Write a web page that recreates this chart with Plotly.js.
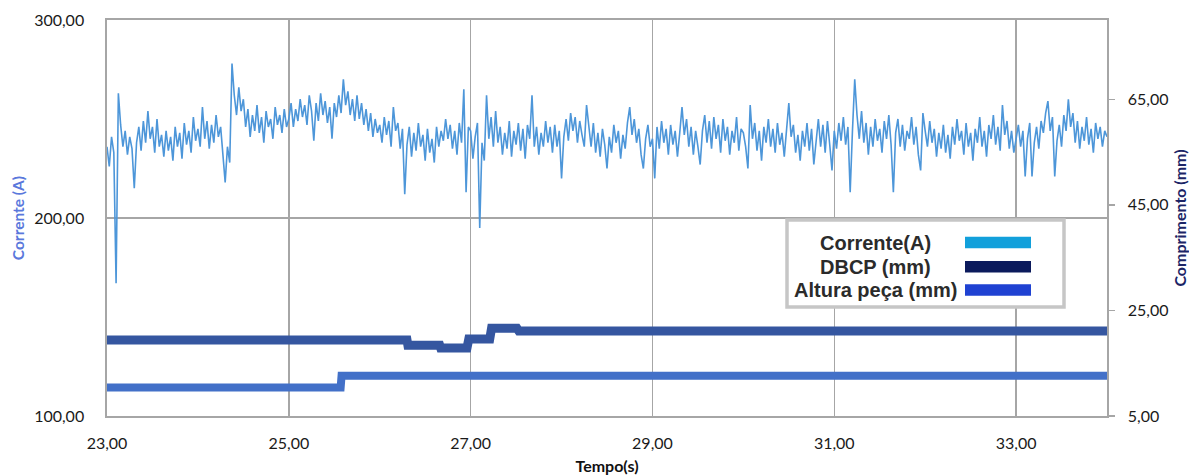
<!DOCTYPE html>
<html>
<head>
<meta charset="utf-8">
<script src="https://cdn.plot.ly/plotly-3.0.1.min.js"></script>
<style>
  html, body { margin: 0; padding: 0; background: #ffffff; }
  #grafico { width: 1189px; height: 476px; }
</style>
</head>
<body>
<div id="grafico"></div>
<script>
// Welding current sampled every 25 ms from 23,00 s to 34,00 s (A)
const tempoInicial = 23.0;
const passoAmostra = 0.025;
const corrente = [
  // 23 s
  236,226,241,233,167,263,247,236,244,232,241,235,215,238,246,234,249,238,254,240,
  246,233,250,236,242,231,244,234,241,229,246,236,243,230,248,237,244,233,251,239,
  // 24 s
  245,236,256,240,249,235,247,238,252,241,246,232,218,236,228,278,262,252,266,254,
  260,246,255,241,252,244,257,243,251,238,254,246,250,240,256,247,252,243,255,246,
  // 25 s
  250,258,246,255,249,260,251,257,247,262,254,239,258,249,263,252,259,248,256,240,
  258,251,262,253,270,257,264,252,260,249,262,250,258,247,255,244,253,241,250,243,
  // 26 s
  247,238,251,242,249,236,256,244,248,235,245,212,237,246,231,243,234,248,236,242,
  229,245,233,240,228,246,236,244,239,250,240,247,235,244,232,248,238,265,213,246,
  // 27 s
  244,230,241,248,195,238,229,262,240,251,236,254,238,246,232,243,235,249,231,244,
  237,248,234,245,230,247,240,262,236,246,232,243,236,249,238,246,233,247,236,244,
  // 28 s
  220,241,250,239,253,244,251,238,249,242,236,257,245,236,248,233,243,231,245,237,
  225,241,233,247,238,244,230,242,235,248,256,242,250,238,245,232,225,240,247,236,
  // 29 s
  240,220,246,235,249,238,245,232,247,237,244,231,243,256,242,250,236,246,232,244,
  236,227,244,252,238,249,235,251,240,247,233,250,239,246,232,244,238,251,234,245,
  // 30 s
  243,236,225,257,240,248,234,244,229,246,238,250,236,245,233,248,237,243,231,246,
  258,241,247,233,242,229,244,236,248,234,245,227,240,250,236,247,233,249,237,224,
  // 31 s
  244,235,248,239,251,237,246,213,244,270,252,240,254,238,248,232,246,236,250,239,
  245,233,249,240,252,237,213,243,250,236,247,234,244,240,251,237,246,232,224,253,
  // 32 s
  244,236,249,238,245,231,243,235,247,233,242,230,246,237,250,239,244,232,248,236,
  243,229,245,238,251,236,244,231,247,240,252,237,246,234,257,242,249,235,244,233,
  // 33 s
  240,247,236,244,221,240,248,221,238,246,235,249,243,253,259,244,251,221,239,247,
  236,252,244,260,246,253,238,249,235,246,239,251,237,245,233,248,240,246,236,244,
  // 34 s
  241
];
const tempoCorrente = corrente.map((_, i) => +(tempoInicial + i * passoAmostra).toFixed(3));

// DBCP, contact-tip-to-work distance (mm)
const tempoDBCP = [23.00, 26.30, 26.31, 26.66, 26.67, 26.96, 26.98, 27.21, 27.23, 27.51, 27.53, 34.00];
const dbcp      = [19.4, 19.4, 18.4, 18.4, 17.9, 17.9, 19.6, 19.6, 21.6, 21.6, 21.1, 21.1];

// Workpiece height (mm)
const tempoAltura = [23.00, 25.57, 25.58, 34.00];
const altura      = [10.4, 10.4, 12.6, 12.6];

// Axis ticks
const ticksTempo = [23, 25, 27, 29, 31, 33];
const ticksCorrente = [100, 200, 300];
const ticksComprimento = [5, 25, 45, 65];

// Legend entries
const nomesLegenda = ['Corrente(A)', 'DBCP (mm)', 'Altura peça (mm)'];
const coresLegenda = ['#12a0db', '#0b1a5c', '#1f42d2'];

// plot area in pixels
const area = { x0: 107, x1: 1107, y0: 20, y1: 416 };
const px = x => (x - area.x0) / (area.x1 - area.x0);
const py = y => (area.y1 - y) / (area.y1 - area.y0);

const traces = [
  {
    x: tempoCorrente, y: corrente, type: 'scatter', mode: 'lines',
    line: { color: '#4d96d9', width: 1.6 }, name: nomesLegenda[0], yaxis: 'y'
  },
  {
    x: tempoDBCP, y: dbcp, type: 'scatter', mode: 'lines',
    line: { color: '#3556a0', width: 9 }, name: nomesLegenda[1], yaxis: 'y2'
  },
  {
    x: tempoAltura, y: altura, type: 'scatter', mode: 'lines',
    line: { color: '#4270c8', width: 8 }, name: nomesLegenda[2], yaxis: 'y2'
  }
];

const fonteEixo = { family: 'Lato, "Open Sans", sans-serif', size: 16, color: '#1a1a1a' };

// legend box, drawn by hand
const legBox = { x0: 787, x1: 1064, y0: 220, y1: 307 };
const legLinhas = [242.5, 266.7, 290];
const shapes = [{
  type: 'rect', xref: 'paper', yref: 'paper', layer: 'above',
  x0: px(legBox.x0), x1: px(legBox.x1), y0: py(legBox.y1), y1: py(legBox.y0),
  fillcolor: '#ffffff', line: { color: '#c6c6c6', width: 3.5 }
}];
const annotations = [];
nomesLegenda.forEach((nome, i) => {
  shapes.push({
    type: 'rect', xref: 'paper', yref: 'paper', layer: 'above',
    x0: px(965), x1: px(1031), y0: py(legLinhas[i] + 5.8), y1: py(legLinhas[i] - 5.8),
    fillcolor: coresLegenda[i], line: { width: 0 }
  });
  annotations.push({
    xref: 'paper', yref: 'paper', x: px(875), y: py(legLinhas[i]),
    xanchor: 'center', yanchor: 'middle', showarrow: false, text: nome,
    font: { family: '"Liberation Sans", Arial, sans-serif', size: 20, color: '#2b2b2b', weight: 'bold' }
  });
});

const layout = {
  width: 1189, height: 476,
  margin: { l: area.x0, r: 1189 - area.x1, t: area.y0, b: 476 - area.y1 },
  paper_bgcolor: '#ffffff', plot_bgcolor: '#ffffff',
  separators: ',.',
  showlegend: false,
  xaxis: {
    range: [23, 34], tickvals: ticksTempo, tickformat: '.2f',
    showgrid: true, gridcolor: '#a6a6a6', gridwidth: 1.4,
    showline: true, linecolor: '#a6a6a6', linewidth: 1.6, mirror: true,
    zeroline: false, ticks: '', ticklabelstandoff: 12,
    tickfont: fonteEixo,
    title: { text: 'Tempo(s)', standoff: 10,
      font: { family: 'Lato, sans-serif', size: 16, color: '#111111', weight: 'bold' } }
  },
  yaxis: {
    range: [100, 300], tickvals: ticksCorrente, tickformat: '.2f',
    showgrid: true, gridcolor: '#a6a6a6', gridwidth: 1.4,
    showline: true, linecolor: '#a6a6a6', linewidth: 1.6,
    zeroline: false, ticks: '', ticklabelstandoff: 18,
    tickfont: fonteEixo,
    title: { text: 'Corrente (A)', standoff: 6,
      font: { family: 'Lato, sans-serif', size: 15.5, color: '#5a78dc', weight: 'bold' } }
  },
  yaxis2: {
    overlaying: 'y', side: 'right',
    range: [5, 80], tickvals: ticksComprimento, tickformat: '.2f',
    showgrid: false, showline: true, linecolor: '#a6a6a6', linewidth: 1.6,
    zeroline: false, ticks: 'outside', ticklen: 6, tickcolor: '#a6a6a6', tickwidth: 1.4,
    ticklabelstandoff: 10,
    tickfont: fonteEixo,
    title: { text: 'Comprimento (mm)', standoff: 12,
      font: { family: 'Lato, sans-serif', size: 16, color: '#1c2566', weight: 'bold' } }
  },
  shapes: shapes,
  annotations: annotations
};

Plotly.newPlot('grafico', traces, layout, { displayModeBar: false, staticPlot: true });
</script>
</body>
</html>
